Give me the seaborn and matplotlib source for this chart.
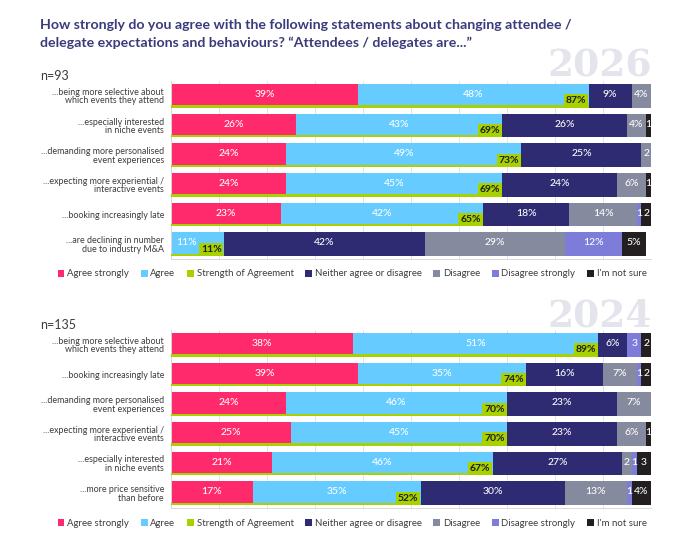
import numpy as np
import pandas as pd
import matplotlib
matplotlib.use("Agg")
import matplotlib.pyplot as plt
import seaborn as sns
from matplotlib.patches import Patch

sns.set_theme(style="white")
plt.rcParams['font.family'] = ['Lato', 'DejaVu Sans']

# ---------------- data ----------------
series = ["Agree strongly", "Agree", "Neither agree or disagree", "Disagree",
          "Disagree strongly", "I'm not sure"]
legend_labels = ["Agree strongly", "Agree", "Strength of Agreement",
                 "Neither agree or disagree", "Disagree", "Disagree strongly", "I'm not sure"]

statements_2026 = [
    "...being more selective about\nwhich events they attend",
    "...especially interested\nin niche events",
    "...demanding more personalised\nevent experiences",
    "...expecting more experiential /\ninteractive events",
    "...booking increasingly late",
    "...are declining in number\ndue to industry M&A",
]
agree_strongly_2026 = [39, 26, 24, 24, 23, 0]
agree_2026 = [48, 43, 49, 45, 42, 11]
neither_2026 = [9, 26, 25, 24, 18, 42]
disagree_2026 = [4, 4, 2, 6, 14, 29]
disagree_strongly_2026 = [0, 0, 0, 0, 1, 12]
not_sure_2026 = [0, 1, 0, 1, 2, 5]
strength_2026 = [87, 69, 73, 69, 65, 11]

statements_2024 = [
    "...being more selective about\nwhich events they attend",
    "...booking increasingly late",
    "...demanding more personalised\nevent experiences",
    "...expecting more experiential /\ninteractive events",
    "...especially interested\nin niche events",
    "...more price sensitive\nthan before",
]
agree_strongly_2024 = [38, 39, 24, 25, 21, 17]
agree_2024 = [51, 35, 46, 45, 46, 35]
neither_2024 = [6, 16, 23, 23, 27, 30]
disagree_2024 = [0, 7, 7, 6, 2, 13]
disagree_strongly_2024 = [3, 1, 0, 0, 1, 1]
not_sure_2024 = [2, 2, 0, 1, 3, 4]
strength_2024 = [89, 74, 70, 70, 67, 52]

colors = {
    "Agree strongly": "#FF2A6B",
    "Agree": "#66CCFF",
    "Strength of Agreement": "#A8D100",
    "Neither agree or disagree": "#2E2B72",
    "Disagree": "#868A9E",
    "Disagree strongly": "#7D7DD9",
    "I'm not sure": "#231F20",
}
TITLE_C = "#3A3B7C"
TEXT_C = "#3C3C3C"

fig = plt.figure(figsize=(7.0, 5.45), dpi=100)

BOX_W = 4.4  # approx width of the strength label box, in % units


def draw(ax, statements, values, strength):
    df = pd.DataFrame(dict(zip(series, values)))
    cum = df.cumsum(axis=1)
    n = len(statements)
    for s in reversed(series):
        d = pd.DataFrame({"statement": statements, "value": cum[s].values})
        sns.barplot(data=d, x="value", y="statement", orient="h", color=colors[s],
                    saturation=1, width=0.8, errorbar=None, linewidth=0,
                    edgecolor="none", ax=ax, zorder=2)
    # strength of agreement line
    ax.barh(y=np.arange(n) + 0.36, width=strength, height=0.08, left=0,
            color=colors["Strength of Agreement"], zorder=3, linewidth=0)
    # segment labels
    for i in range(n):
        for s in series:
            v = df.loc[i, s]
            if v <= 0:
                continue
            start = cum.loc[i, s] - v
            end = cum.loc[i, s]
            if s == "Agree" and v < 15:
                end = end - BOX_W
            x = (start + end) / 2
            txt = f"{v}%" if v >= 4 else f"{v}"
            ax.text(x, i - 0.04, txt, ha="center", va="center", color="white",
                    fontsize=7.5, fontweight="medium", zorder=4)
        ax.annotate(f"{strength[i]}%", xy=(strength[i], i), xytext=(-1.6, -3.6),
                    textcoords="offset points", ha="right", va="center",
                    fontsize=7.5, fontweight="bold", color="#1E1E1E", zorder=5,
                    bbox=dict(boxstyle="square,pad=0.18", fc=colors["Strength of Agreement"],
                              ec="none"))
    ax.set_xlim(0, 100)
    ax.set_ylim(n - 0.5, -0.5)
    ax.set_xticks(np.arange(0, 101, 10))
    ax.set_xticklabels([])
    ax.tick_params(axis="x", length=0)
    ax.tick_params(axis="y", length=0, pad=5, labelsize=6.4, labelcolor=TEXT_C)
    for lab in ax.get_yticklabels():
        lab.set_horizontalalignment("right")
        lab.set_linespacing(0.95)
    ax.set_xlabel("")
    ax.set_ylabel("")
    ax.grid(axis="x", color="#E3E3E3", linewidth=0.7, zorder=0)
    ax.set_axisbelow(True)
    for sp in ["top", "right"]:
        ax.spines[sp].set_visible(False)
    for sp in ["left", "bottom"]:
        ax.spines[sp].set_color("#D8D8D8")
        ax.spines[sp].set_linewidth(0.7)
    ax.set_facecolor("none")


L = 171 / 700
W = 480 / 700
H = 178 / 545
ax1 = fig.add_axes([L, 1 - 259 / 545, W, H])
ax2 = fig.add_axes([L, 1 - 508 / 545, W, H])

draw(ax1, statements_2026,
     [agree_strongly_2026, agree_2026, neither_2026, disagree_2026,
      disagree_strongly_2026, not_sure_2026], strength_2026)
draw(ax2, statements_2024,
     [agree_strongly_2024, agree_2024, neither_2024, disagree_2024,
      disagree_strongly_2024, not_sure_2024], strength_2024)

# title
fig.text(40 / 700, 1 - 29 / 545,
         "How strongly do you agree with the following statements about changing attendee /",
         fontsize=10.2, fontweight="bold", color=TITLE_C, va="baseline")
fig.text(40 / 700, 1 - 47 / 545,
         "delegate expectations and behaviours? \u201cAttendees / delegates are...\u201d",
         fontsize=10.2, fontweight="bold", color=TITLE_C, va="baseline")

# watermarks
for yy, label in [(1 - 66 / 545, "2026"), (1 - 316 / 545, "2024")]:
    fig.text(652 / 700, yy, label, fontsize=27, family="DejaVu Serif", fontweight="bold",
             color="#E4E5EC", ha="right", va="center", zorder=0)

fig.text(40 / 700, 1 - 76 / 545, "n=93", fontsize=9, color=TEXT_C, va="center")
fig.text(40 / 700, 1 - 325 / 545, "n=135", fontsize=9, color=TEXT_C, va="center")

handles = [Patch(facecolor=colors[k], edgecolor="none") for k in legend_labels]
for yy in [1 - 274 / 545, 1 - 523 / 545]:
    fig.legend(handles, legend_labels, loc="center", bbox_to_anchor=(0.503, yy), ncol=7,
               frameon=False, fontsize=6.95, handlelength=0.7, handleheight=0.7,
               handletextpad=0.3, columnspacing=1.2, labelcolor=TEXT_C)

fig.savefig("out.png", dpi=100, facecolor="white")
